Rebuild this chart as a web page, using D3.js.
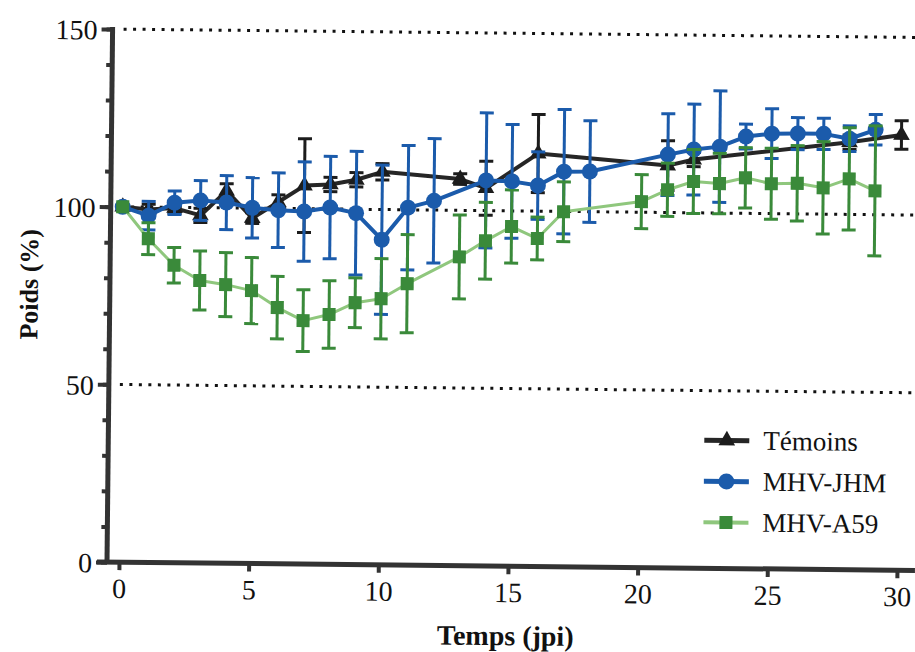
<!DOCTYPE html>
<html>
<head>
<meta charset="utf-8">
<script src="https://cdn.jsdelivr.net/npm/d3@7"></script>
<style>
    body { margin: 0; background: #fff; }
    text { font-family: "Liberation Serif", "DejaVu Serif", serif; fill: #111; }
</style>
</head>
<body>
<svg id="chart" width="915" height="652"></svg>
<script>
// Témoins (black triangles)
const temoinsDays = [0, 1, 2, 3, 4, 5, 6, 7, 8, 9, 10, 13, 14, 16, 21, 22, 28, 30];
const temoinsMean = [100, 99.3, 99.8, 97.8, 104.8, 97.2, 101.8, 106.5, 106.9, 108.3, 110.6, 108.8, 106.3, 116.2, 113.2, 115.0, 120.3, 122.5];
const temoinsErr = [0, 1.5, 1.5, 2, 2, 1.5, 2, 13.2, 2, 2, 2.3, 1.5, 7.6, 11, 7, 2, 2, 4];

// MHV-JHM (blue circles)
const jhmDays = [0, 1, 2, 3, 4, 5, 6, 7, 8, 9, 10, 11, 12, 14, 15, 16, 17, 18, 21, 22, 23, 24, 25, 26, 27, 28, 29];
const jhmMean = [100, 97.6, 101.3, 102.0, 101.5, 100.1, 99.5, 99.2, 100.4, 98.9, 91.5, 100.6, 102.6, 108.5, 108.3, 107.2, 111.2, 111.3, 116.3, 117.8, 118.7, 121.6, 122.5, 122.6, 122.6, 121.3, 123.9];
const jhmErr = [0, 4, 3.3, 5.6, 7.6, 8.5, 10.5, 14, 14.4, 17.4, 21, 17.5, 17.5, 19, 16, 9.5, 17.5, 14.3, 11.5, 12.8, 15.7, 3.5, 7, 4.5, 4.4, 3.6, 4.3];

// MHV-A59 (green squares)
const a59Days = [0, 1, 2, 3, 4, 5, 6, 7, 8, 9, 10, 11, 13, 14, 15, 16, 17, 20, 21, 22, 23, 24, 25, 26, 27, 28, 29];
const a59Mean = [100, 91.1, 83.7, 79.5, 78.4, 76.8, 72.1, 68.5, 70.3, 73.7, 74.9, 79.2, 86.9, 91.5, 95.6, 92.3, 99.9, 103, 106.4, 108.8, 108.3, 110, 108.4, 108.6, 107.4, 110, 106.7];
const a59Err = [0, 4.5, 5, 8.3, 9, 9.3, 8.8, 8.7, 9.5, 7, 11.3, 13.8, 11.8, 10.8, 10.3, 6, 8.4, 7.6, 7.5, 9, 8.5, 8.5, 10, 10.6, 13, 14.4, 18.3];

const xTicks = [0, 5, 10, 15, 20, 25, 30];
const yTicks = [0, 50, 100, 150];
const refLines = [50, 100, 150];

const FONT_TICK = 28;
const SERIF = "'Liberation Serif', 'DejaVu Serif', serif";

const svg = d3.select("#chart");
// the original is a slightly tilted scan
const g = svg.append("g")
    .attr("transform", "rotate(0.6, 107, 562)")
    .attr("font-family", SERIF);

const x = d3.scaleLinear().domain([0, 30]).range([119, 897]);
const y = d3.scaleLinear().domain([0, 150]).range([562, 29]);

function makeSeries(days, mean, err) {
    return days.map((d, i) => ({ day: d, mean: mean[i], err: err[i] }));
}

const series = [
    { name: "Témoins", data: makeSeries(temoinsDays, temoinsMean, temoinsErr),
      line: "#262626", mark: "#1c1c1c", bar: "#1c1c1c", width: 4, symbol: d3.symbolTriangle, size: 120 },
    { name: "MHV-JHM", data: makeSeries(jhmDays, jhmMean, jhmErr),
      line: "#1b5bab", mark: "#1b5bab", bar: "#1b5bab", width: 4, symbol: d3.symbolCircle, size: 200 },
    { name: "MHV-A59", data: makeSeries(a59Days, a59Mean, a59Err),
      line: "#8fc77d", mark: "#3a8a3a", bar: "#3a8a3a", width: 3, symbol: d3.symbolSquare, size: 170 }
];

// dotted reference lines
g.selectAll(".ref")
    .data(refLines)
    .enter()
    .append("line")
    .attr("x1", 118)
    .attr("x2", 918)
    .attr("y1", d => y(d))
    .attr("y2", d => y(d))
    .attr("stroke", "#111")
    .attr("stroke-width", 3)
    .attr("stroke-dasharray", "3 6.5");

// axes
const axisColor = "#333";

const yMinor = g.append("g")
    .attr("transform", "translate(107,0)")
    .call(d3.axisLeft(y).tickValues(d3.range(0, 151, 10)).tickSize(6).tickFormat(""));
const yAxis = g.append("g")
    .attr("transform", "translate(107,0)")
    .call(d3.axisLeft(y).tickValues(yTicks).tickSize(11).tickPadding(4));
const xAxis = g.append("g")
    .attr("transform", "translate(0,562)")
    .call(d3.axisBottom(x).tickValues(xTicks).tickSize(8).tickPadding(8));

[yMinor, yAxis, xAxis].forEach(a => {
    a.attr("font-family", SERIF);
    a.select(".domain").remove();
    a.selectAll("line").attr("stroke", axisColor).attr("stroke-width", 4);
    a.selectAll("text")
        .style("font-size", `${FONT_TICK}px`)
        .style("font-family", SERIF)
        .attr("fill", "#111");
});
yAxis.selectAll("text").attr("dy", "0.36em");

g.append("line")
    .attr("x1", 107).attr("x2", 107)
    .attr("y1", y(150) - 2).attr("y2", y(0) + 2)
    .attr("stroke", axisColor).attr("stroke-width", 5);
g.append("line")
    .attr("x1", 97).attr("x2", 915)
    .attr("y1", y(0)).attr("y2", y(0))
    .attr("stroke", axisColor).attr("stroke-width", 5);

// titles
g.append("text")
    .text("Temps (jpi)")
    .attr("x", 506)
    .attr("y", 641)
    .attr("text-anchor", "middle")
    .style("font-family", SERIF)
    .style("font-size", "28px")
    .style("font-weight", "bold");

g.append("text")
    .text("Poids (%)")
    .attr("transform", "translate(35, 285) rotate(-90)")
    .attr("text-anchor", "middle")
    .style("font-family", SERIF)
    .style("font-size", "26px")
    .style("font-weight", "bold");

// series: lines, error bars, markers
const lineGen = d3.line().x(d => x(d.day)).y(d => y(d.mean));

series.forEach(s => {
    const sg = g.append("g");

    sg.append("path")
        .datum(s.data)
        .attr("d", lineGen)
        .attr("fill", "none")
        .attr("stroke", s.line)
        .attr("stroke-width", s.width)
        .attr("stroke-linejoin", "round");

    const bars = sg.selectAll(".bar")
        .data(s.data.filter(d => d.err > 0))
        .enter()
        .append("g")
        .attr("stroke", s.bar)
        .attr("stroke-width", 3);

    bars.append("line")
        .attr("x1", d => x(d.day)).attr("x2", d => x(d.day))
        .attr("y1", d => y(d.mean + d.err)).attr("y2", d => y(d.mean - d.err));
    bars.append("line")
        .attr("x1", d => x(d.day) - 7).attr("x2", d => x(d.day) + 7)
        .attr("y1", d => y(d.mean + d.err)).attr("y2", d => y(d.mean + d.err));
    bars.append("line")
        .attr("x1", d => x(d.day) - 7).attr("x2", d => x(d.day) + 7)
        .attr("y1", d => y(d.mean - d.err)).attr("y2", d => y(d.mean - d.err));

    sg.selectAll(".mk")
        .data(s.data)
        .enter()
        .append("path")
        .attr("d", d3.symbol().type(s.symbol).size(s.size))
        .attr("transform", d => `translate(${x(d.day)},${y(d.mean)})`)
        .attr("fill", s.mark);
});

// legend
const legend = g.append("g").attr("transform", "translate(703, 434)");

const rows = legend.selectAll(".row")
    .data(series)
    .enter()
    .append("g")
    .attr("transform", (d, i) => `translate(0, ${i * 41})`);

rows.append("line")
    .attr("x1", 0).attr("x2", 45)
    .attr("y1", 0).attr("y2", 0)
    .attr("stroke", d => d.line)
    .attr("stroke-width", d => d.width + 1);

rows.append("path")
    .attr("d", d => d3.symbol().type(d.symbol).size(d.size)())
    .attr("transform", "translate(22.5, 0)")
    .attr("fill", d => d.mark);

rows.append("text")
    .text(d => d.name)
    .attr("x", 59)
    .attr("y", 9)
    .style("font-family", SERIF)
    .style("font-size", "27px");
</script>
</body>
</html>
